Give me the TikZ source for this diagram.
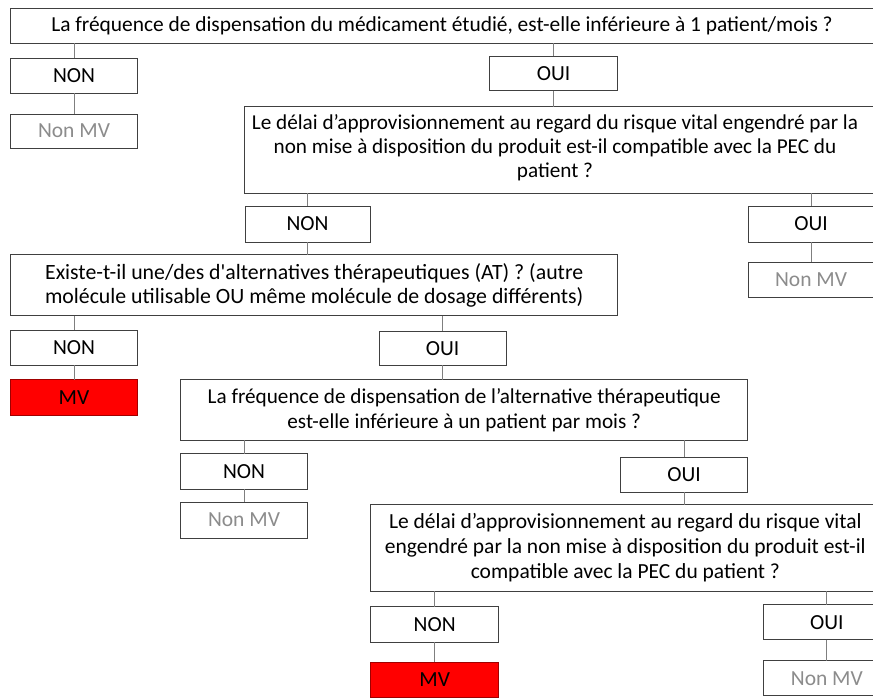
\documentclass[tikz,border=0pt]{standalone}
\usepackage{fontspec}
\setmainfont{Carlito}[Ligatures=TeXOff]
\definecolor{bord}{HTML}{404040}
\definecolor{conn}{HTML}{7F7F7F}
\definecolor{nmv}{HTML}{8C8C8C}
\definecolor{mvred}{HTML}{FF0000}
\definecolor{mvbord}{HTML}{A00000}
\tikzset{
  box/.style={draw=bord, line width=1pt, fill=white, inner sep=0pt, outer sep=0pt,
    align=center, font=\fontsize{21.5}{24.5}\selectfont},
  ans/.style={box, font=\fontsize{21.5}{24}\selectfont},
  nmvbox/.style={ans, text=nmv},
  mvbox/.style={ans, fill=mvred, draw=mvbord},
  qtext/.style={align=center, inner sep=0pt, font=\fontsize{21.5}{24.5}\selectfont},
  link/.style={draw=conn, line width=1pt},
}
\newcommand\bx[7]{\node[#6, minimum width={(#4)-(#2)}, minimum height={(#5)-(#3)}] (#1) at ({((#2)+(#4))/2},{-((#3)+(#5))/2}) {#7};}
\begin{document}
\begin{tikzpicture}[x=1pt,y=1pt]
\useasboundingbox (0,0) rectangle (873,-697);
% level 1
\bx{q1}{10.7}{8.3}{876}{43.3}{box}{}
\node[qtext, font=\fontsize{21.4}{24.5}\selectfont] (q1t) at (442,-26) {La fréquence de dispensation du médicament étudié, est-elle inférieure à 1 patient/mois ?};
\bx{non1}{10.7}{58.3}{137.3}{93.3}{ans}{NON}
\bx{nmv1}{10.7}{114}{137.3}{148.3}{nmvbox}{Non MV}
\bx{oui1}{489.3}{56}{617.7}{90.7}{ans}{OUI}
% level 2
\bx{q2}{244}{106.7}{876}{193.3}{box}{}
\node[qtext, font=\fontsize{21.2}{24.2}\selectfont] (q2t) at (555,-147.5) {Le délai d’approvisionnement au regard du risque vital engendré par la\\non mise à disposition du produit est-il compatible avec la PEC du\\patient ?};
\bx{non2}{245}{206}{370}{242}{ans}{NON}
\bx{oui2}{748}{206}{874}{242}{ans}{OUI}
\bx{nmv2}{748}{262}{874}{297.7}{nmvbox}{Non MV}
% level 3
\bx{q3}{10.7}{254.7}{617.7}{315.7}{box, font=\fontsize{21.8}{23.5}\selectfont}{Existe-t-il une/des d'alternatives thérapeutiques (AT) ? (autre\\molécule utilisable OU même molécule de dosage différents)}
\bx{non3}{10.7}{330.3}{137.3}{365.3}{ans}{NON}
\bx{mv1}{10.7}{379.7}{137.3}{415.3}{mvbox}{MV}
\bx{oui3}{379.3}{331}{506}{365.3}{ans}{OUI}
% level 4
\bx{q4}{180.7}{379.7}{747.7}{440.3}{box, font=\fontsize{21.2}{25}\selectfont}{La fréquence de dispensation de l’alternative thérapeutique\\est-elle inférieure à un patient par mois ?}
\bx{non4}{180.7}{453.7}{307.3}{489}{ans}{NON}
\bx{nmv3}{180.7}{502.3}{307.3}{538}{nmvbox}{Non MV}
\bx{oui4}{620.3}{457}{747.7}{492.3}{ans}{OUI}
% level 5
\bx{q5}{370.7}{504.7}{880}{591.3}{box, font=\fontsize{21.5}{25}\selectfont}{Le délai d’approvisionnement au regard du risque vital\\engendré par la non mise à disposition du produit est-il\\compatible avec la PEC du patient ?}
\bx{non5}{370.7}{606.7}{498.7}{642.3}{ans}{NON}
\bx{mv2}{370.7}{662.3}{498.7}{697.5}{mvbox}{MV}
\bx{oui5}{763.7}{604.7}{890}{639.7}{ans}{OUI}
\bx{nmv4}{763.7}{660.7}{890}{695.7}{nmvbox}{Non MV}
% connectors
\draw[link] (q1.south -| non1.north) -- (non1.north);
\draw[link] (non1.south) -- (nmv1.north);
\draw[link] (q1.south -| oui1.north) -- (oui1.north);
\draw[link] (oui1.south) -- (oui1.south |- q2.north);
\draw[link] (q2.south -| non2.north) -- (non2.north);
\draw[link] (q2.south -| oui2.north) -- (oui2.north);
\draw[link] (oui2.south) -- (nmv2.north);
\draw[link] (non2.south) -- (non2.south |- q3.north);
\draw[link] (q3.south -| non3.north) -- (non3.north);
\draw[link] (non3.south) -- (mv1.north);
\draw[link] (q3.south -| oui3.north) -- (oui3.north);
\draw[link] (oui3.south) -- (oui3.south |- q4.north);
\draw[link] (q4.south -| non4.north) -- (non4.north);
\draw[link] (non4.south) -- (nmv3.north);
\draw[link] (q4.south -| oui4.north) -- (oui4.north);
\draw[link] (oui4.south) -- (oui4.south |- q5.north);
\draw[link] (q5.south -| non5.north) -- (non5.north);
\draw[link] (non5.south) -- (mv2.north);
\draw[link] (q5.south -| oui5.north) -- (oui5.north);
\draw[link] (oui5.south) -- (nmv4.north);
\end{tikzpicture}
\end{document}
